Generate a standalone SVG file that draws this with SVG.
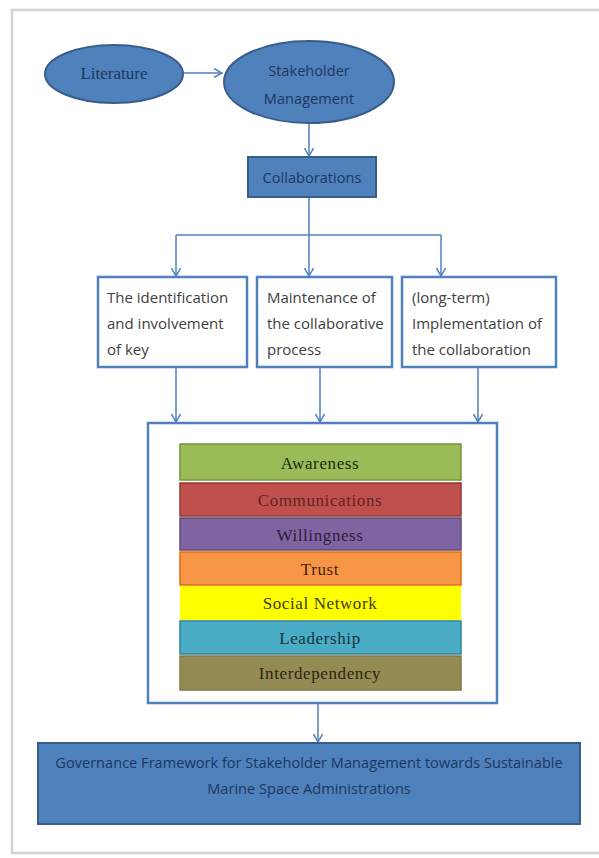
<svg xmlns="http://www.w3.org/2000/svg" width="599" height="858" viewBox="0 0 599 858">
<defs>
<marker id="arr" viewBox="0 0 10 10" refX="9" refY="5" markerWidth="10" markerHeight="10" markerUnits="userSpaceOnUse" orient="auto">
<path d="M1,0.5 L9,5 L1,9.5" fill="none" stroke="#4F81BD" stroke-width="1.5"/>
</marker>
</defs>
<style>
.shape{fill:#4F81BD;stroke:#385D8A;stroke-width:2}
.box{fill:#ffffff;stroke:#4F81BD;stroke-width:2.5}
.lbl{font-family:"Open Sans","Liberation Sans",sans-serif;font-size:14.6px;fill:#1F3760;text-anchor:middle}
.gov{font-size:14.6px}
.btx{font-family:"Open Sans","Liberation Sans",sans-serif;font-size:15px;fill:#404040}
.bar{stroke-width:1.5}
.btxt{font-family:"Liberation Serif","Times New Roman",serif;font-size:17px;letter-spacing:0.6px;text-anchor:middle}
.con{fill:none;stroke:#4F81BD;stroke-width:1.5}
</style>
<rect x="12" y="10" width="600" height="843" fill="#ffffff" stroke="#d4d4d4" stroke-width="2.5"/>

<g id="connectors">
<line class="con" x1="184" y1="73" x2="222" y2="73" marker-end="url(#arr)"/>
<line class="con" x1="309" y1="122" x2="309" y2="156" marker-end="url(#arr)"/>
<polyline class="con" points="309,197 309,235"/>
<line class="con" x1="176" y1="235" x2="441" y2="235"/>
<line class="con" x1="176" y1="235" x2="176" y2="276" marker-end="url(#arr)"/>
<line class="con" x1="309" y1="235" x2="309" y2="276" marker-end="url(#arr)"/>
<line class="con" x1="441" y1="235" x2="441" y2="276" marker-end="url(#arr)"/>
<line class="con" x1="176" y1="368" x2="176" y2="422" marker-end="url(#arr)"/>
<line class="con" x1="320" y1="368" x2="320" y2="422" marker-end="url(#arr)"/>
<line class="con" x1="478" y1="368" x2="478" y2="422" marker-end="url(#arr)"/>
<line class="con" x1="318" y1="703" x2="318" y2="742" marker-end="url(#arr)"/>
</g>

<g id="literature">
<ellipse class="shape" cx="114" cy="74" rx="69" ry="29"/>
<text x="114" y="79" style="font-family:'Liberation Serif',serif;font-size:17px;fill:#1F3760;text-anchor:middle">Literature</text>
</g>

<g id="stakeholder">
<ellipse class="shape" cx="309" cy="82" rx="85" ry="41"/>
<text x="309" y="76" class="lbl">Stakeholder</text>
<text x="309" y="104" class="lbl">Management</text>
</g>

<g id="collaborations">
<rect class="shape" x="248" y="157" width="128" height="40"/>
<text x="312" y="183" class="lbl">Collaborations</text>
</g>

<g id="identification">
<rect class="box" x="98" y="277" width="149" height="90"/>
<text x="107" y="303" class="btx">The identification</text>
<text x="107" y="329" class="btx">and involvement</text>
<text x="107" y="355" class="btx">of key</text>
</g>

<g id="maintenance">
<rect class="box" x="257" y="277" width="135" height="90"/>
<text x="267" y="303" class="btx">Maintenance of</text>
<text x="267" y="329" class="btx">the collaborative</text>
<text x="267" y="355" class="btx">process</text>
</g>

<g id="implementation">
<rect class="box" x="402" y="277" width="154" height="90"/>
<text x="412" y="303" class="btx">(long-term)</text>
<text x="412" y="329" class="btx">Implementation of</text>
<text x="412" y="355" class="btx">the collaboration</text>
</g>

<g id="factors">
<rect class="box" x="148" y="423" width="349" height="280" stroke-width="2"/>
<rect class="bar" x="180" y="444" width="281" height="36" fill="#9BBB59" stroke="#76923C"/>
<text x="320" y="469" class="btxt" fill="#1E2A10">Awareness</text>
<rect class="bar" x="180" y="483" width="281" height="33" fill="#C0504D" stroke="#943634"/>
<text x="320" y="506" class="btxt" fill="#632523">Communications</text>
<rect class="bar" x="180" y="518" width="281" height="32" fill="#8064A2" stroke="#5F497A"/>
<text x="320" y="541" class="btxt" fill="#2A2040">Willingness</text>
<rect class="bar" x="180" y="552" width="281" height="33" fill="#F79646" stroke="#E36C09"/>
<text x="320" y="575" class="btxt" fill="#4A2408">Trust</text>
<rect x="180" y="586" width="281" height="34" fill="#FFFF00"/>
<text x="320" y="609" class="btxt" fill="#3A3A10">Social Network</text>
<rect class="bar" x="180" y="621" width="281" height="33" fill="#4BACC6" stroke="#31849B"/>
<text x="320" y="644" class="btxt" fill="#173440">Leadership</text>
<rect class="bar" x="180" y="656" width="281" height="34" fill="#948A54" stroke="#847A48"/>
<text x="320" y="679" class="btxt" fill="#2A2612">Interdependency</text>
</g>

<g id="governance">
<rect class="shape" x="38" y="743" width="542" height="81"/>
<text x="309" y="768" class="lbl gov">Governance Framework for Stakeholder Management towards Sustainable</text>
<text x="309" y="794" class="lbl gov">Marine Space Administrations</text>
</g>
</svg>
